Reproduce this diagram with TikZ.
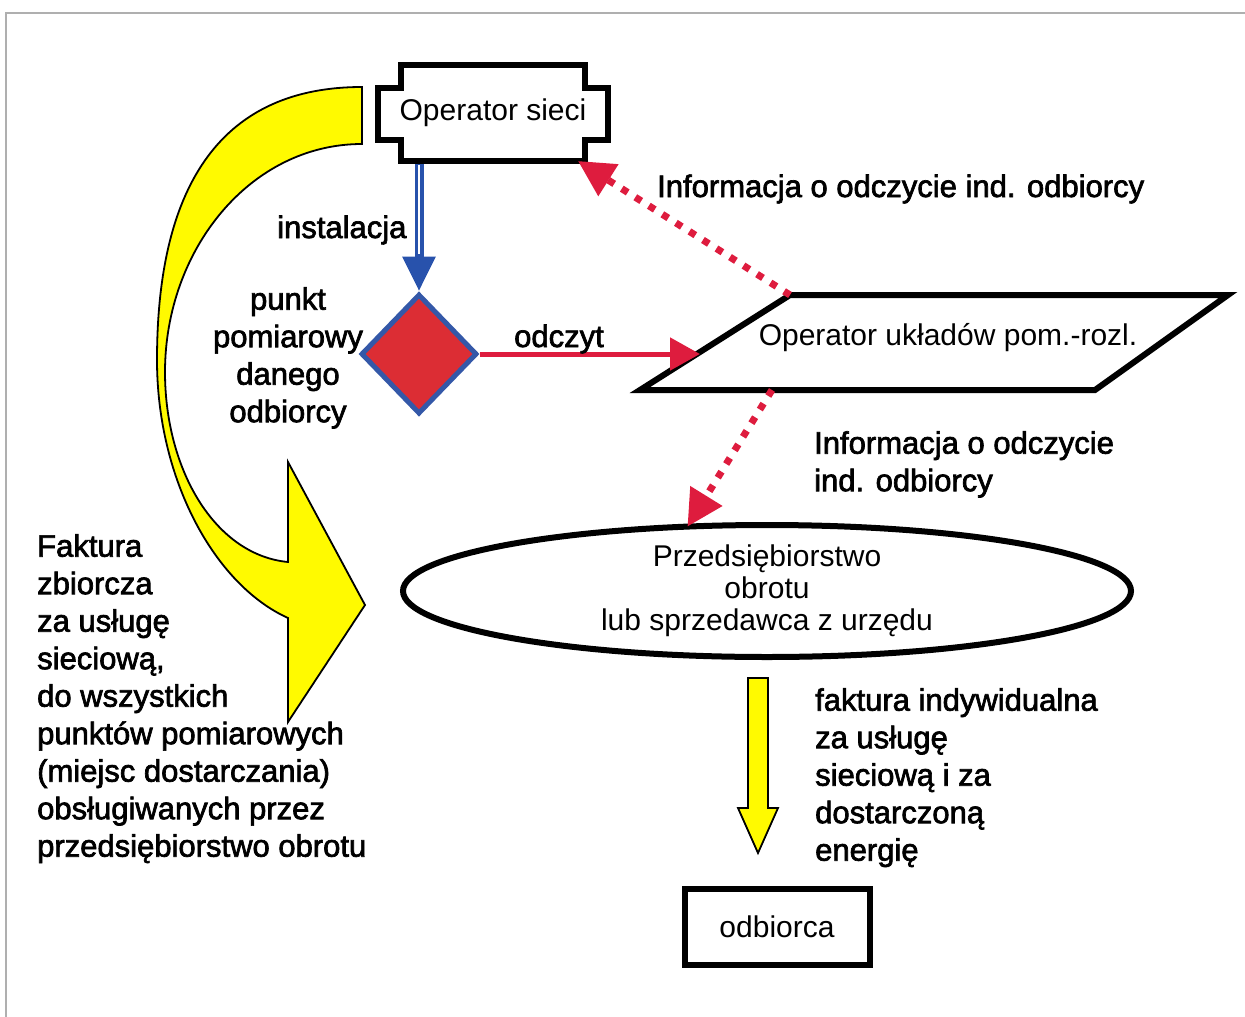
\documentclass[tikz,border=0pt]{standalone}
\usepackage{fontspec}
\setmainfont{Liberation Sans}
\newfontfamily\lblfont[FakeBold=2.2]{Liberation Sans}
\usetikzlibrary{arrows.meta,shapes.geometric,calc}
\definecolor{dotred}{RGB}{222,28,62}
\definecolor{pointred}{RGB}{220,45,52}
\definecolor{pointblue}{RGB}{52,88,168}
\definecolor{instblue}{RGB}{40,82,172}
\definecolor{billyellow}{RGB}{255,250,0}
\definecolor{framegray}{RGB}{175,175,175}
\begin{document}
\begin{tikzpicture}[x=1pt,y=-1pt,
  boxline/.style={line width=6pt, black, line join=miter},
  nodetxt/.style={font=\fontsize{30}{32}\selectfont, inner sep=0pt, outer sep=0pt},
  lbl/.style={font=\lblfont\fontsize{31}{37.5}\selectfont, inner sep=0pt},
  dotarrow/.style={dotred, line width=7pt, dash pattern=on 7pt off 9pt,
    -{Triangle[length=36pt,width=36pt]}},
  billfill/.style={fill=billyellow, draw=black, line width=1.8pt, line join=miter}
]
\useasboundingbox (0,0) rectangle (1245,1017);
% page frame
\draw[framegray, line width=1.5pt] (6,1017) -- (6,13) -- (1245,13);

% curved yellow arrow for the collective invoice
\path[billfill] (362,87) .. controls (225,87) and (157,180) .. (157,360)
  .. controls (157,480) and (215,585) .. (288,618) -- (288,722) -- (365,605)
  -- (288,462) -- (288,562) .. controls (215,555) and (165,470) .. (165,372)
  .. controls (165,250) and (250,144) .. (362,144) -- cycle;

% network operator box with stepped corners
\node[nodetxt, minimum width=230pt, minimum height=96pt] (ops) at (493,113) {Operator sieci};

% metering point
\node[diamond, draw=pointblue, fill=pointred, line width=5pt, minimum width=116pt,
  minimum height=120pt, inner sep=0pt] (pt) at (419,354) {};

% metering operator parallelogram
\coordinate (pA) at (790,295);
\coordinate (pB) at (1228,295);
\coordinate (pC) at (1095,390);
\coordinate (pD) at (640,390);
\coordinate (pin) at ($(pD)!0.4!(pA)$);
\coordinate (pout) at ($(pD)!0.29!(pC)$);
\draw[boxline] (pA) -- (pB) -- (pC) -- (pD) -- cycle;
\node[nodetxt] (our) at (948,338) {Operator układów pom.-rozl.};

% trading company
\node[ellipse, draw, line width=6pt, minimum width=728pt, minimum height=132pt,
  nodetxt, align=center] (ell) at (767,591)
  {Przedsiębiorstwo\\obrotu\\lub sprzedawca z urzędu};

% customer
\node[draw, line width=6pt, minimum width=185pt, minimum height=76pt, nodetxt] (odb)
  at (777,927) {odbiorca};

% installation arrow (double blue line)
\draw[instblue, line width=9pt, -{Triangle[length=35pt,width=31pt]}]
  ($(pt.north |- ops.south)+(0,2)$) -- (pt.north);
\draw[white, line width=2.5pt] ($(pt.north |- ops.south)+(0,4)$) -- ($(pt.north)+(0,-38)$);

\draw[boxline] ([xshift=23pt]ops.north west) -- ([xshift=-23pt]ops.north east)
  -- ([xshift=-23pt,yshift=-23pt]ops.north east) -- ([yshift=-23pt]ops.north east)
  -- ([yshift=21pt]ops.south east) -- ([xshift=-23pt,yshift=21pt]ops.south east)
  -- ([xshift=-23pt]ops.south east) -- ([xshift=23pt]ops.south west)
  -- ([xshift=23pt,yshift=21pt]ops.south west) -- ([yshift=21pt]ops.south west)
  -- ([yshift=-23pt]ops.north west) -- ([xshift=23pt,yshift=-23pt]ops.north west)
  -- cycle;

% reading arrow
\draw[dotred, line width=5pt, -{Triangle[length=30pt,width=32pt]}] (pt.east) -- (pt.east -| pin);

% information arrows
\draw[dotarrow] (pA) -- ([xshift=-30pt]ops.south east);
\draw[dotarrow] (pout) -- (ell.141);

% individual invoice arrow
\path[billfill] (748,678) -- (768,678) -- (768,808) -- (778,808) -- (758,853)
  -- (738,808) -- (748,808) -- cycle;

% labels
\node[lbl, anchor=base west] (linfo1) at (657,197) {Informacja o odczycie ind. odbiorcy};
\node[lbl, anchor=base west] (linst) at (277,238) {instalacja};
\node[lbl, anchor=base west] (lodc) at (514,347) {odczyt};
\node[lbl, anchor=north, align=center] (lpunkt) at (288,287) {punkt\\pomiarowy\\danego\\odbiorcy};
\node[lbl, anchor=north west, align=left] (linfo2) at (814,431) {Informacja o odczycie\\ind. odbiorcy};
\node[lbl, anchor=north west, align=left] (lfind) at (815,688)
  {faktura indywidualna\\za usługę\\sieciową i za\\dostarczoną\\energię};
\node[lbl, anchor=north west, align=left] (lfzb) at (37,534)
  {Faktura\\zbiorcza\\za usługę\\sieciową,\\do wszystkich\\punktów pomiarowych\\(miejsc dostarczania)\\obsługiwanych przez\\przedsiębiorstwo obrotu};
\end{tikzpicture}
\end{document}
